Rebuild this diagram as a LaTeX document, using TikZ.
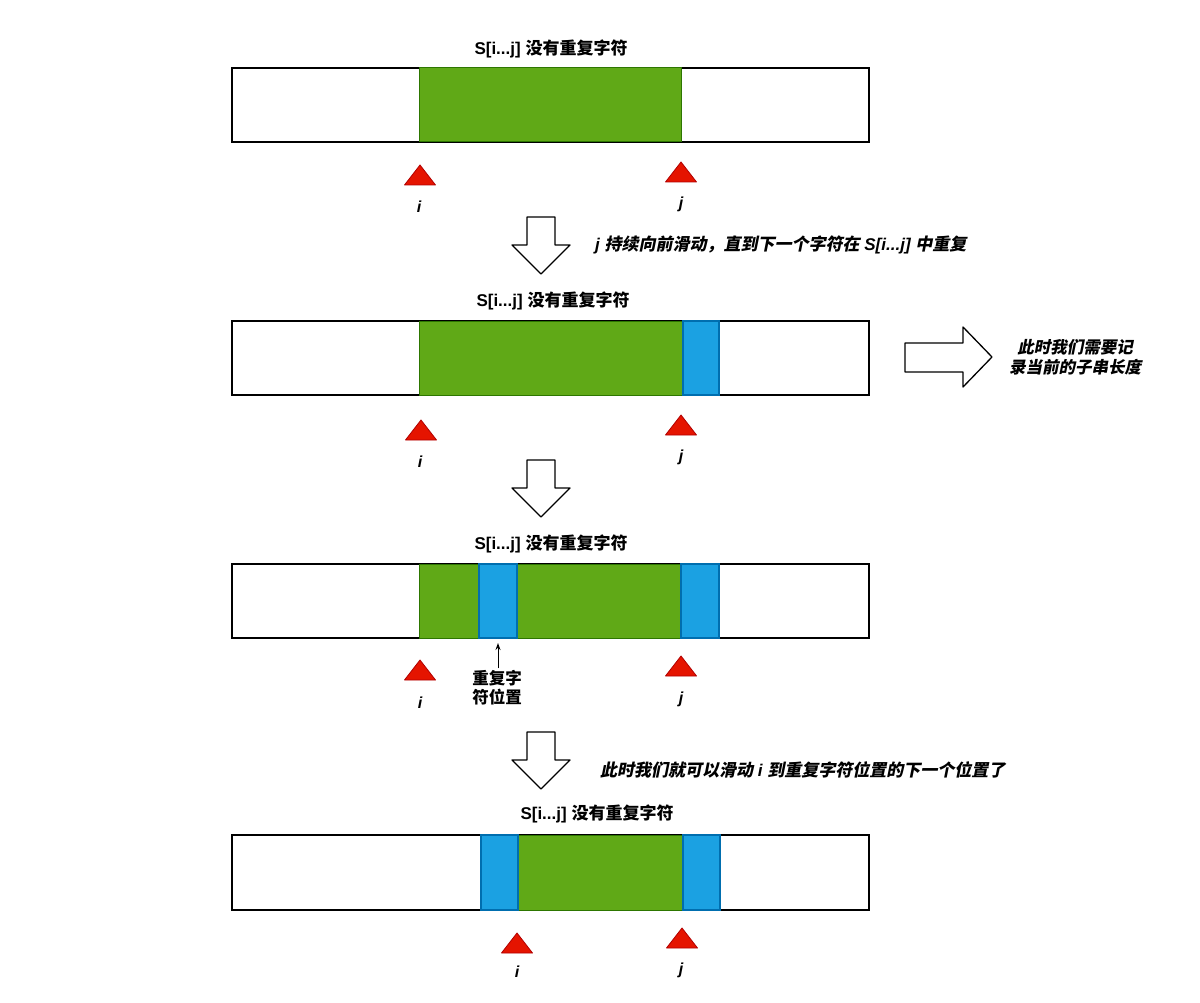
\documentclass[tikz,border=0pt]{standalone}
\usepackage{fontspec}
\setmainfont{Liberation Sans}
\newfontfamily\cjkfont{Noto Sans CJK SC}
\newfontfamily\cjkslant{Noto Sans CJK SC}[FakeSlant=0.2]
\usetikzlibrary{arrows.meta}
\newcommand\zh[1]{{\cjkfont #1}}
\newcommand\zhi[1]{{\cjkslant #1}}
\definecolor{gfill}{HTML}{60A917}
\definecolor{gline}{HTML}{2D7600}
\definecolor{bfill}{HTML}{1BA1E2}
\definecolor{bline}{HTML}{006EAF}
\definecolor{rfill}{HTML}{E51400}
\definecolor{rline}{HTML}{B20000}
\tikzset{
  cellbase/.style={rectangle, inner sep=0pt, outer sep=0pt, anchor=north west},
  barcell/.style={cellbase, draw=black, fill=white, line width=1.3pt, minimum width=637pt},
  greencell/.style={cellbase, draw=gline, fill=gfill, line width=1pt},
  bluecell/.style={cellbase, draw=bline, fill=bfill, line width=1.2pt},
  titletext/.style={font=\bfseries\fontsize{17}{20}\selectfont, inner sep=0pt},
  notetext/.style={font=\bfseries\itshape\fontsize{17}{20}\selectfont, inner sep=0pt, anchor=west},
  ptrlabel/.style={font=\bfseries\itshape\fontsize{16}{19}\selectfont, inner sep=0pt},
  blockarrow/.style={draw=black, fill=white, line width=1.3pt, line join=round},
  tri/.style={fill=rfill, draw=rline, line width=0.8pt, line join=round},
  ptr/.pic={\filldraw[tri] (-15.5,0) -- (15.5,0) -- (0,-20) -- cycle;},
  downarr/.pic={\draw[blockarrow] (-14,0) -- (14,0) -- (14,28) -- (29,28) -- (0,57) -- (-29,28) -- (-14,28) -- cycle;}
}
\begin{document}
\begin{tikzpicture}[x=1pt, y=-1pt]
\useasboundingbox (0,0) rectangle (1200,1003);
\fill[white] (0,0) rectangle (1200,1003);

% ---------- Row 1 ----------
\node[titletext] (t1) at (551,49) {S[i...j] \zh{没有重复字符}};
\node[barcell, minimum height=74pt] (bar1) at (232,68) {};
\node[greencell, minimum width=262pt, minimum height=74pt] (g1) at (419,68) {};
\pic at (420,185) {ptr};
\pic at (681,182) {ptr};
\node[ptrlabel] (i1) at (419,207) {i};
\node[ptrlabel] (j1) at (681,204) {j};

\pic at (541,217) {downarr};
\node[notetext] (n1) at (595,245) {j \zhi{持续向前滑动，直到下一个字符在} S[i...j] \zhi{中重复}};

% ---------- Row 2 ----------
\node[titletext] (t2) at (553,301) {S[i...j] \zh{没有重复字符}};
\node[barcell, minimum height=74pt] (bar2) at (232,321) {};
\node[greencell, minimum width=264pt, minimum height=74pt] (g2) at (419,321) {};
\node[bluecell, minimum width=36pt, minimum height=74pt] (b2) at (683,321) {};
\pic at (421,440) {ptr};
\pic at (681,435) {ptr};
\node[ptrlabel] (i2) at (420,462) {i};
\node[ptrlabel] (j2) at (681,457) {j};

\draw[blockarrow] (905,343) -- (963,343) -- (963,327) -- (992,357) -- (963,387) -- (963,372) -- (905,372) -- cycle;
\node[font=\bfseries\fontsize{16.5}{20}\selectfont, align=center, inner sep=0pt] (n2) at (1075,357) {\zhi{此时我们需要记}\\\zhi{录当前的子串长度}};

\pic at (541,460) {downarr};

% ---------- Row 3 ----------
\node[titletext] (t3) at (551,544) {S[i...j] \zh{没有重复字符}};
\node[barcell, minimum height=74pt] (bar3) at (232,564) {};
\node[greencell, minimum width=262pt, minimum height=74pt] (g3) at (419,564) {};
\node[bluecell, minimum width=38pt, minimum height=74pt] (b3a) at (479,564) {};
\node[bluecell, minimum width=38pt, minimum height=74pt] (b3b) at (681,564) {};
\node[font=\bfseries\fontsize{16.5}{19}\selectfont, align=center, inner sep=0pt] (rep) at (497,688) {\zh{重复字}\\\zh{符位置}};
\draw[-{Stealth[open, length=7pt, width=5pt]}, line width=1pt, shorten >=5pt, shorten <=2pt] (rep.north -| b3a.south) -- (b3a.south);
\pic at (420,680) {ptr};
\pic at (681,676) {ptr};
\node[ptrlabel] (i3) at (420,703) {i};
\node[ptrlabel] (j3) at (681,699) {j};

\pic at (541,732) {downarr};
\node[notetext] (n3) at (600,770) {\zhi{此时我们就可以滑动} i \zhi{到重复字符位置的下一个位置了}};

% ---------- Row 4 ----------
\node[titletext] (t4) at (597,814) {S[i...j] \zh{没有重复字符}};
\node[barcell, minimum height=75pt] (bar4) at (232,835) {};
\node[greencell, minimum width=165pt, minimum height=75pt] (g4) at (518,835) {};
\node[bluecell, minimum width=37pt, minimum height=75pt] (b4a) at (481,835) {};
\node[bluecell, minimum width=37pt, minimum height=75pt] (b4b) at (683,835) {};
\pic at (517,953) {ptr};
\pic at (682,948) {ptr};
\node[ptrlabel] (i4) at (517,972) {i};
\node[ptrlabel] (j4) at (681,970) {j};
\end{tikzpicture}
\end{document}
